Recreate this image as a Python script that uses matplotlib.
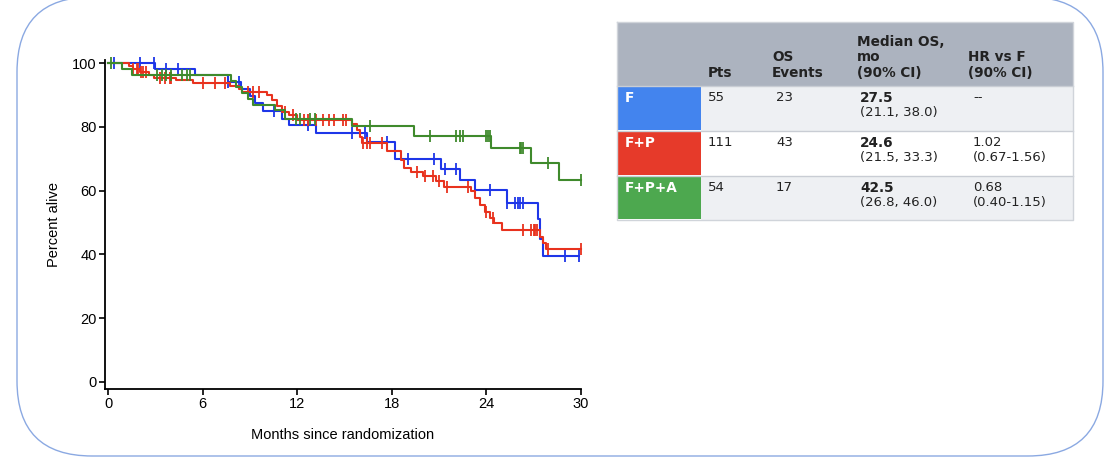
import numpy as np
import matplotlib
matplotlib.use('Agg')
import matplotlib.pyplot as plt
from matplotlib.patches import FancyBboxPatch, Rectangle

# Kaplan-Meier step data: (time, survival after drop)
f_times = [0, 3.0, 5.5, 7.6, 8.4, 9.0, 9.3, 9.8, 11.0, 11.5, 13.2, 16.4, 18.2,
           21.1, 22.3, 23.3, 25.3, 27.3, 27.4, 27.6]
f_surv = [100, 98.2, 96.2, 94.0, 92.0, 89.8, 87.5, 85.0, 82.6, 80.5, 78.1, 75.2, 70.0,
          66.7, 63.3, 60.1, 56.2, 51.0, 45.0, 39.5]
f_end = 29.9
f_cens = [0.4, 2.0, 2.9, 3.7, 4.4, 7.6, 8.3, 10.5, 12.7, 15.5, 16.3, 17.7, 19.0,
          20.7, 21.4, 22.1, 24.2, 25.3, 25.8, 26.0, 26.1, 26.3, 29.0, 29.9]

fp_times = [0, 1.3, 1.6, 2.0, 2.6, 2.9, 4.3, 5.4, 7.7, 8.3, 8.5, 10.1, 10.4, 10.7,
            11.0, 11.5, 12.0, 15.5, 15.8, 16.0, 16.1, 17.7, 18.6, 18.8, 19.2, 20.0,
            20.8, 21.3, 23.0, 23.3, 23.6, 23.9, 24.2, 24.5, 25.0, 27.4, 27.6, 27.8]
fp_surv = [100, 99.1, 98.2, 97.3, 96.4, 95.5, 94.6, 93.7, 92.8, 91.9, 91.0, 90.1, 88.3, 86.5,
           84.7, 83.8, 82.3, 81.0, 79.0, 77.0, 75.0, 72.3, 69.5, 67.2, 66.0, 64.5,
           62.9, 61.3, 59.8, 57.8, 55.6, 53.4, 51.3, 49.9, 47.8, 45.5, 43.6, 41.8]
fp_end = 30.0
fp_cens = [1.6, 1.8, 1.9, 2.1, 2.2, 2.4, 3.3, 3.6, 3.9, 4.0, 6.0, 6.8, 7.4, 8.9, 9.2,
           9.6, 11.2, 11.7, 12.4, 12.7, 13.2, 13.6, 14.0, 14.3, 14.9, 15.1, 16.2, 16.4,
           16.6, 17.4, 19.6, 20.1, 20.6, 21.0, 21.5, 22.8, 24.0, 24.4, 26.3, 26.8, 27.0,
           27.1, 27.2, 27.9, 30.0]

fpa_times = [0, 0.9, 1.5, 7.8, 8.1, 8.5, 8.9, 9.2, 10.6, 11.2, 15.5, 19.4, 24.3, 26.8, 28.6]
fpa_surv = [100, 98.1, 96.3, 94.4, 92.6, 90.7, 88.9, 87.0, 85.2, 82.5, 80.2, 77.3, 73.3, 68.8, 63.4]
fpa_end = 30.0
fpa_cens = [0.2, 3.1, 3.4, 3.7, 4.0, 4.7, 5.0, 5.2, 11.9, 12.2, 12.8, 13.1, 16.6, 20.4,
            22.1, 22.3, 22.5, 24.0, 24.1, 24.2, 26.1, 26.2, 26.3, 27.9, 30.0]

# table content
arms = ['F', 'F+P', 'F+P+A']
pts = ['55', '111', '54']
events = ['23', '43', '17']
median_os = ['27.5', '24.6', '42.5']
median_ci = ['(21.1, 38.0)', '(21.5, 33.3)', '(26.8, 46.0)']
hr = ['--', '1.02', '0.68']
hr_ci = ['', '(0.67-1.56)', '(0.40-1.15)']

arm_colors = ['#4384EE', '#E63A2A', '#4DA84F']
line_colors = ['#1E36E8', '#E8321E', '#3F8A2C']

fig = plt.figure(figsize=(11.04, 4.59), dpi=100)

# overlay in pixel coordinates for border and table
bg = fig.add_axes([0, 0, 1, 1])
bg.set_xlim(0, 1104)
bg.set_ylim(459, 0)
bg.axis('off')
bg.add_patch(FancyBboxPatch((17, -3), 1086, 459, boxstyle='round,pad=0,rounding_size=75',
                            fill=False, ec='#8BA9E2', lw=1.0))

ax = fig.add_axes([105 / 1104, 1 - 389 / 459, 476 / 1104, 329 / 459])
series = [(f_times, f_surv, f_end, f_cens),
          (fp_times, fp_surv, fp_end, fp_cens),
          (fpa_times, fpa_surv, fpa_end, fpa_cens)]
for (t, s, end, cens), c in zip(series, line_colors):
    tt = list(t) + [end]
    ss = list(s) + [s[-1]]
    ax.step(tt, ss, where='post', color=c, lw=1.5, clip_on=False, zorder=3)
    idx = np.searchsorted(t, cens, side='right') - 1
    cy = np.array(s)[idx]
    ax.plot(cens, cy, ls='none', marker='|', ms=9, mew=1.3, color=c, clip_on=False, zorder=3)

ax.set_xlim(-0.2, 30)
ax.set_ylim(-2.2, 101)
ax.set_xticks([0, 6, 12, 18, 24, 30])
ax.set_yticks([0, 20, 40, 60, 80, 100])
ax.spines['top'].set_visible(False)
ax.spines['right'].set_visible(False)
for sp in ['left', 'bottom']:
    ax.spines[sp].set_linewidth(1.3)
ax.tick_params(direction='out', length=4, width=1.2, labelsize=10.5, pad=2)
for lab in ax.get_xticklabels() + ax.get_yticklabels():
    lab.set_fontfamily('Liberation Sans')
ax.set_xlabel('Months since randomization', fontsize=10.5, family='Liberation Sans', labelpad=12)
ax.set_ylabel('Percent alive', fontsize=10.5, family='Liberation Sans', labelpad=8)

# table
x0, x1 = 617, 1073
col_x = [617, 701, 765, 850, 961, 1073]
row_y = [22, 86, 131, 176, 220]
bg.add_patch(Rectangle((x0, row_y[0]), x1 - x0, row_y[1] - row_y[0], fc='#ACB3BF', ec='none'))
row_bg = ['#EEF0F3', '#FFFFFF', '#EEF0F3']
for i in range(3):
    y = row_y[i + 1]
    h = row_y[i + 2] - y
    bg.add_patch(Rectangle((col_x[1], y), x1 - col_x[1], h, fc=row_bg[i], ec='none'))
    bg.add_patch(Rectangle((x0, y + 1), col_x[1] - x0, h - 2, fc=arm_colors[i], ec='none'))
    bg.plot([x0, x1], [y, y], color='#C9CDD4', lw=1)
bg.plot([x0, x1, x1, x0, x0], [row_y[0], row_y[0], row_y[-1], row_y[-1], row_y[0]],
        color='#D0D4DA', lw=1)

tfont = dict(family='DejaVu Sans', color='#222222', linespacing=1.15)
hdr = ['Pts', 'OS\nEvents', 'Median OS,\nmo\n(90% CI)', 'HR vs F\n(90% CI)']
for j, h in enumerate(hdr):
    bg.text(col_x[j + 1] + 7, 80, h, va='bottom', ha='left', fontweight='bold',
            fontsize=9.8, **tfont)

for i in range(3):
    ytop = row_y[i + 1] + 5
    bg.text(x0 + 8, ytop, arms[i], va='top', ha='left', fontweight='bold',
            family='DejaVu Sans', fontsize=9.8, color='white')
    bg.text(col_x[1] + 7, ytop, pts[i], va='top', ha='left', fontsize=9.5, **tfont)
    bg.text(col_x[2] + 11, ytop, events[i], va='top', ha='left', fontsize=9.5, **tfont)
    bg.text(col_x[3] + 10, ytop, median_os[i], va='top', ha='left', fontweight='bold',
            fontsize=9.8, **tfont)
    bg.text(col_x[3] + 10, ytop + 15, median_ci[i], va='top', ha='left', fontsize=9.5, **tfont)
    bg.text(col_x[4] + 12, ytop, hr[i], va='top', ha='left', fontsize=9.5, **tfont)
    if hr_ci[i]:
        bg.text(col_x[4] + 12, ytop + 15, hr_ci[i], va='top', ha='left', fontsize=9.5, **tfont)

fig.savefig('out.png', dpi=100)
plt.close(fig)
